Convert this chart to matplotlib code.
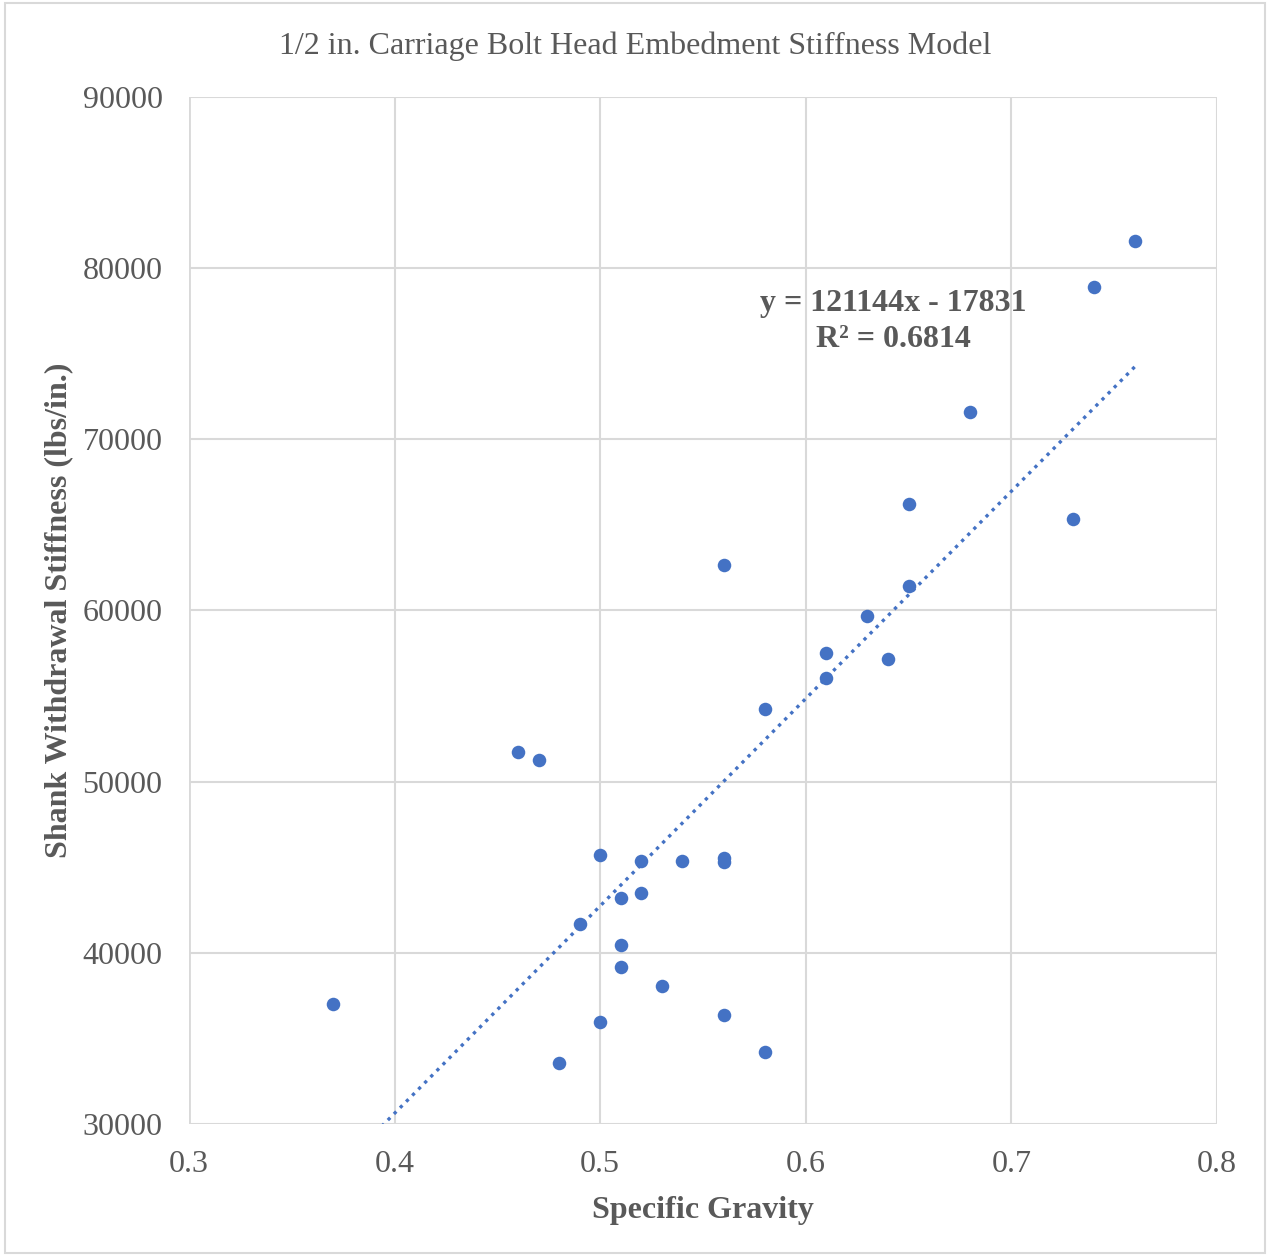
import numpy as np
import matplotlib.pyplot as plt
from matplotlib.patches import Rectangle

# specific gravity vs shank withdrawal stiffness (lbs/in.)
sg = [0.37, 0.46, 0.47, 0.48, 0.49, 0.50, 0.50, 0.51, 0.51, 0.51,
      0.52, 0.52, 0.53, 0.54, 0.56, 0.56, 0.56, 0.56, 0.58, 0.58,
      0.61, 0.61, 0.63, 0.64, 0.65, 0.65, 0.68, 0.73, 0.74, 0.76]
stiffness = [37000, 51730, 51260, 33560, 41680, 45710, 35960, 43200, 40450, 39170,
             45360, 43490, 38060, 45360, 62650, 45540, 45300, 36370, 54240, 34210,
             57510, 56050, 59670, 57160, 66210, 61420, 71590, 65340, 78890, 81580]

slope = 121144
intercept = -17831
r2 = 0.6814

x_ticks = [0.3, 0.4, 0.5, 0.6, 0.7, 0.8]
y_ticks = [30000, 40000, 50000, 60000, 70000, 80000, 90000]

TEXT = '#595959'
GRID = '#d9d9d9'
BLUE = '#4472C4'

plt.rcParams['font.family'] = ['Liberation Serif', 'DejaVu Serif']

fig = plt.figure(figsize=(12.7, 12.56), dpi=100)
ax = fig.add_axes([189 / 1270, 1 - 1124 / 1256, (1217 - 189) / 1270, (1124 - 97) / 1256])

# chart area border
fig.patches.append(Rectangle((0.004, 0.002), 0.992, 0.996, transform=fig.transFigure,
                             fill=False, edgecolor=GRID, linewidth=1.5))

ax.set_xlim(0.3, 0.8)
ax.set_ylim(30000, 90000)
ax.set_xticks(x_ticks)
ax.set_yticks(y_ticks)
ax.set_xticklabels([f'{t:g}' for t in x_ticks])
ax.set_yticklabels([str(t) for t in y_ticks])
ax.grid(True, color=GRID, linewidth=1.5)
ax.set_axisbelow(True)
for s in ax.spines.values():
    s.set_visible(False)
ax.axhline(30000, color=GRID, linewidth=2, zorder=1)
ax.axvline(0.3, color=GRID, linewidth=2, zorder=1)
ax.tick_params(length=0, labelsize=23, colors=TEXT)
ax.tick_params(axis='x', pad=19)
ax.tick_params(axis='y', pad=19)

ax.scatter(sg, stiffness, s=95, color=BLUE, zorder=3, linewidths=0)

xs = np.array([min(sg), max(sg)])
ax.plot(xs, slope * xs + intercept, linestyle=(0, (1, 1.6)), color=BLUE, linewidth=2.4, zorder=2)

ax.text(0.6425, 76900, f'y = {slope}x - {abs(intercept)}\nR² = {r2}', ha='center', va='center',
        fontsize=23, fontweight='bold', color=TEXT, linespacing=1.3)

ax.set_xlabel('Specific Gravity', fontsize=23, fontweight='bold', color=TEXT, labelpad=12)
ax.set_ylabel('Shank Withdrawal Stiffness (lbs/in.)', fontsize=23, fontweight='bold', color=TEXT, labelpad=7)
fig.text(0.5, 1 - 46 / 1256, '1/2 in. Carriage Bolt Head Embedment Stiffness Model',
         ha='center', va='center', fontsize=23, color=TEXT)

fig.savefig('out.png', dpi=100)
